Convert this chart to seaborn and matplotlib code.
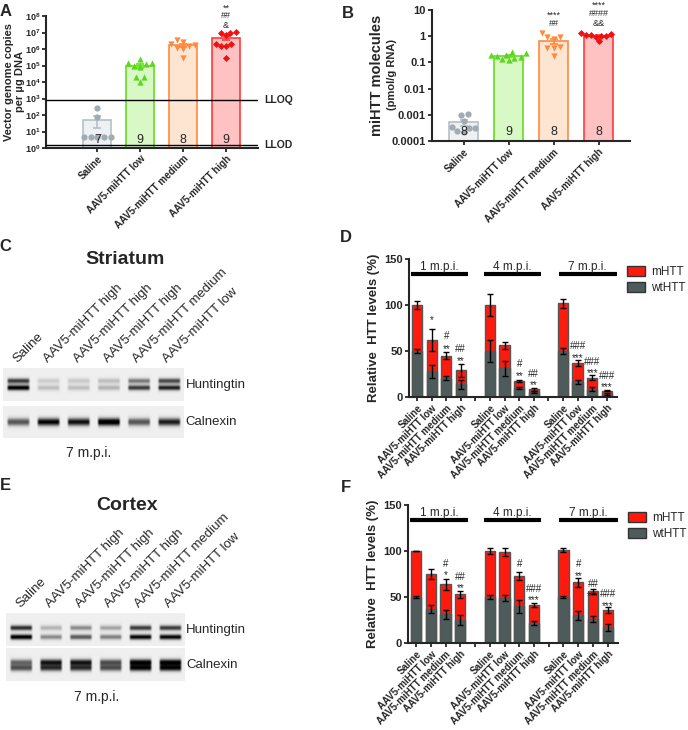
import numpy as np
import pandas as pd
import seaborn as sns
import matplotlib.pyplot as plt
from matplotlib.patches import Patch
from matplotlib.ticker import NullLocator

sns.set_style("ticks")
plt.rcParams['font.family'] = ['Liberation Sans', 'DejaVu Sans']
plt.rcParams['mathtext.fontset'] = 'custom'
plt.rcParams['mathtext.rm'] = 'Liberation Sans'
plt.rcParams['mathtext.bf'] = 'Liberation Sans:bold'

# ---------------- data ----------------
groups = ["Saline", "AAV5-miHTT low", "AAV5-miHTT medium", "AAV5-miHTT high"]
face_cols = ["#edf1f3", "#d8f8c6", "#fde5d2", "#ffc2c2"]
edge_cols = ["#b4c0c7", "#66dd22", "#ff8a3d", "#ff3b3b"]
dot_cols = ["#a0abb3", "#5bd81c", "#ff8a3d", "#f01010"]
markers = ["o", "^", "v", "D"]
marker_sizes = [4.5, 4.5, 4.5, 3.6]

# A: vector genome copies per ug DNA
vg_saline = [4.5, 4.5, 4.5, 4.5, 4.5, 80, 250]
vg_low = [2.5e5, 1.5e5, 1.0e5, 8e4, 1.2e5, 2e4, 1e4, 2e4, 1.5e5]
vg_medium = [3.5e6, 2.5e6, 2e6, 1.5e6, 1.2e6, 1.8e6, 3e5, 1e6]
vg_high = [1.1e7, 1e7, 9e6, 7e6, 2e6, 1.5e6, 2e6, 1.5e6, 3e5]
vg_n = ["7", "9", "8", "9"]
lloq, llod = 800, 1.5
vg_sig = ["**", "##", "&"]

# B: miHTT molecules (pmol/g RNA)
mi_saline = [1.1e-3, 1.0e-3, 6e-4, 3e-4, 3e-4, 3.4e-4, 2.2e-4, 2.4e-4]
mi_low = [0.25, 0.22, 0.2, 0.18, 0.15, 0.13, 0.12, 0.2, 0.16]
mi_medium = [1.3, 0.95, 0.9, 0.8, 0.4, 0.35, 0.35, 0.17]
mi_high = [1.3, 1.2, 1.1, 1.1, 1.0, 1.0, 0.95, 0.65]
mi_n = ["8", "9", "8", "8"]
mi_sig_medium = ["****", "##"]
mi_sig_high = ["****", "####", "&&"]

# C / E: western blot lanes and band intensities
lanes = ["Saline", "AAV5-miHTT high", "AAV5-miHTT high", "AAV5-miHTT high",
         "AAV5-miHTT medium", "AAV5-miHTT low"]
str_htt_upper = [0.8, 0.2, 0.22, 0.28, 0.55, 0.75]
str_htt_lower = [1.05, 0.28, 0.28, 0.33, 0.8, 0.9]
str_cnx = [0.7, 1.0, 0.95, 1.1, 0.7, 0.9]
ctx_htt_upper = [0.85, 0.32, 0.48, 0.38, 0.8, 0.8]
ctx_htt_lower = [1.05, 0.48, 0.68, 0.52, 1.0, 1.0]
ctx_cnx_upper = [0.6, 0.9, 0.9, 0.7, 1.0, 1.0]
ctx_cnx_lower = [0.7, 0.8, 0.8, 0.7, 0.95, 0.95]

# D / F: relative HTT levels
pos = [0, 1, 2, 3, 5, 6, 7, 8, 10, 11, 12, 13]
timepoints = ["1 m.p.i.", "4 m.p.i.", "7 m.p.i."]
d_total = [100, 62, 45, 29, 100, 56, 17, 8.5, 102, 37, 21, 7]
d_total_sem = [4, 12, 4, 7, 12, 4, 1, 1.5, 5, 3, 3, 1]
d_wt = [50, 28, 21, 14, 50, 31, 10, 5, 50, 16, 9, 3.5]
d_wt_sem = [2, 7, 2, 5, 12, 8, 1, 1, 3, 2, 2, 1]
d_sig = [(1, 86, "*"), (2, 66, "#"), (2, 55, "**"), (3, 52, "##"), (3, 42, "**"),
         (7, 36, "#"), (7, 25, "**"), (8, 25, "##"), (8, 15, "**"),
         (11, 55, "###"), (11, 45, "***"), (12, 38, "###"), (12, 28, "***"),
         (13, 23, "###"), (13, 13, "***")]
f_total = [100, 75, 64, 53, 100, 99, 73, 41, 101, 66, 56, 36]
f_total_sem = [0.5, 5, 6, 4, 3, 4, 4, 2, 2, 5, 3, 3]
f_wt = [50, 37, 31, 25, 50, 49, 40, 22, 50, 30, 26, 17]
f_wt_sem = [1, 4, 5, 5, 2, 3, 7, 2, 1, 5, 3, 4]
f_sig = [(2, 86, "#"), (2, 76, "*"), (3, 72, "##"), (3, 62, "**"),
         (7, 86, "#"), (8, 59, "###"), (8, 49, "***"),
         (11, 86, "#"), (11, 75, "**"), (12, 64, "##"), (12, 54, "***"),
         (13, 53, "###"), (13, 43, "***")]
m_col, wt_col = "#ff1a0e", "#4e5b5b"

# ---------------- layout helpers ----------------
W, H = 688, 730
fig = plt.figure(figsize=(W / 100, H / 100), dpi=100)


def add_ax(x0, y0, x1, y1):
    return fig.add_axes([x0 / W, 1 - y1 / H, (x1 - x0) / W, (y1 - y0) / H])


def ftext(x, y, s, **kw):
    fig.text(x / W, 1 - y / H, s, **kw)


def style_axis(ax, ysize=7.5, xsize=7, pad=1.5):
    sns.despine(ax=ax)
    for sp in ax.spines.values():
        sp.set_linewidth(1.5)
    ax.tick_params(width=1.3, length=3, pad=pad)
    for lab in ax.get_yticklabels():
        lab.set_fontweight('bold')
        lab.set_fontsize(ysize)
    for lab in ax.get_xticklabels():
        lab.set_fontweight('bold')
        lab.set_fontsize(xsize)
        lab.set_rotation(45)
        lab.set_ha('right')
        lab.set_rotation_mode('anchor')


def star_y(y, s, step):
    # asterisks sit high in the line box, pull them down a little
    return y - step if s.startswith("*") else y


def dot_bar_panel(ax, data):
    df = pd.DataFrame({"group": np.repeat(groups, [len(v) for v in data]),
                       "value": np.concatenate(data)})
    stats = df.groupby("group", sort=False)["value"].agg(["mean", "sem"]).reindex(groups)
    sns.barplot(x=groups, y=stats["mean"].values, hue=groups, palette=face_cols,
                order=groups, hue_order=groups, width=0.65, saturation=1,
                legend=False, ax=ax)
    for bar, ec in zip(ax.patches, edge_cols):
        bar.set_edgecolor(ec)
        bar.set_linewidth(1.2)
    ax.set_yscale('log')
    for i, (g, vals) in enumerate(zip(groups, data)):
        ax.errorbar(i, stats.loc[g, "mean"], yerr=stats.loc[g, "sem"], fmt='none',
                    ecolor=edge_cols[i], capsize=3, elinewidth=1.2, capthick=1.2, zorder=4)
        sns.swarmplot(x=[g] * len(vals), y=vals, order=groups, color=dot_cols[i],
                      marker=markers[i], size=marker_sizes[i], linewidth=0, ax=ax,
                      zorder=5)
    ax.yaxis.set_minor_locator(NullLocator())
    ax.set_xlabel("")


# ---------------- panel A ----------------
axA = add_ax(46, 16, 258, 148)
dot_bar_panel(axA, [vg_saline, vg_low, vg_medium, vg_high])
axA.set_xlim(-1.2, 3.75)
axA.set_ylim(1, 1e8)
axA.set_yticks([10.0 ** k for k in range(9)],
               [r"$\mathbf{10^{%d}}$" % k for k in range(9)])
axA.axhline(lloq, color="black", lw=1, zorder=6)
axA.axhline(llod, color="black", lw=1, zorder=6)
axA.text(1.03, lloq, "LLOQ", transform=axA.get_yaxis_transform(), fontsize=7.5,
         fontweight='bold', va='center', clip_on=False)
axA.text(1.03, llod, "LLOD", transform=axA.get_yaxis_transform(), fontsize=7.5,
         fontweight='bold', va='center', clip_on=False)
for i, n in enumerate(vg_n):
    axA.text(i, 3, n, ha='center', va='center', fontsize=9, zorder=7)
for k, s in enumerate(vg_sig):
    axA.text(3, 10 ** star_y(8.58 - 0.58 * k, s, 0.12), s, ha='center', va='center',
             fontsize=6.5, clip_on=False)
axA.set_ylabel("Vector genome copies\nper µg DNA", fontsize=8, fontweight='bold',
               linespacing=1.05)
axA.yaxis.set_label_coords(-0.1, 0.5)
style_axis(axA, ysize=6.5, pad=1)

# ---------------- panel B ----------------
axB = add_ax(432, 10, 630, 141)
dot_bar_panel(axB, [mi_saline, mi_low, mi_medium, mi_high])
axB.set_xlim(-0.7, 3.7)
axB.set_ylim(1e-4, 10)
axB.set_yticks([1e-4, 1e-3, 1e-2, 0.1, 1, 10],
               ["0.0001", "0.001", "0.01", "0.1", "1", "10"])
for i, n in enumerate(mi_n):
    axB.text(i, 2.2e-4, n, ha='center', va='center', fontsize=9, zorder=7)
for k, s in enumerate(mi_sig_medium):
    axB.text(2, 10 ** star_y(0.87 - 0.4 * k, s, 0.08), s, ha='center', va='center',
             fontsize=6.5)
for k, s in enumerate(mi_sig_high):
    axB.text(3, 10 ** star_y(1.25 - 0.38 * k, s, 0.08), s, ha='center', va='center',
             fontsize=6.5, clip_on=False)
style_axis(axB, ysize=8)
ftext(377, 75, "miHTT molecules", rotation=90, ha='center', va='center',
      fontsize=10.5, fontweight='bold')
ftext(392, 75, "(pmol/g RNA)", rotation=90, ha='center', va='center',
      fontsize=8, fontweight='bold')


# ---------------- blots C / E ----------------
def draw_blot(ax, bands, centers, sigma):
    rows, cols = 80, 240
    yy = np.linspace(0, 1, rows)[:, None]
    xx = np.linspace(0, 6, cols, endpoint=False)[None, :]
    lane_idx = np.floor(xx).astype(int).clip(0, 5)
    d_edge = 0.5 - np.abs(xx - np.floor(xx) - 0.5)
    hprof = np.clip((d_edge - 0.1) / 0.08, 0, 1)
    img = np.full((rows, cols), 0.15)
    for vals, c in zip(bands, centers):
        v = np.asarray(vals)[lane_idx]
        img = img + v * hprof * np.exp(-0.5 * ((yy - c) / sigma) ** 2)
    ax.imshow(img, cmap='Greys', vmin=0, vmax=1.15, aspect='auto',
              extent=(0, 6, 1, 0), interpolation='bilinear')
    ax.set_axis_off()


def blot_panel(x0, x1, htt_box, cnx_box, htt_bands, htt_c, cnx_bands, cnx_c, cnx_sig):
    ax_h = add_ax(x0, htt_box[0], x1, htt_box[1])
    draw_blot(ax_h, htt_bands, htt_c, 0.06)
    ax_c = add_ax(x0, cnx_box[0], x1, cnx_box[1])
    draw_blot(ax_c, cnx_bands, cnx_c, cnx_sig)
    for i, lab in enumerate(lanes):
        ax_h.text(i + 0.55, -0.1, lab, rotation=45, ha='left', va='bottom',
                  rotation_mode='anchor', fontsize=9.5, clip_on=False)
    ax_h.text(6.08, 0.52, "Huntingtin", fontsize=9.5, va='center', clip_on=False)
    ax_c.text(6.08, 0.5, "Calnexin", fontsize=9.5, va='center', clip_on=False)


blot_panel(3, 183, (368, 401), (406, 438), [str_htt_upper, str_htt_lower], [0.39, 0.6],
           [str_cnx], [0.5], 0.09)
ftext(125, 260, "Striatum", ha='center', va='center', fontsize=14, fontweight='bold')
ftext(89, 453, "7 m.p.i.", ha='center', va='center', fontsize=10)

blot_panel(6, 184, (613, 646), (648, 681), [ctx_htt_upper, ctx_htt_lower], [0.45, 0.73],
           [ctx_cnx_upper, ctx_cnx_lower], [0.45, 0.62], 0.07)
ftext(127, 506, "Cortex", ha='center', va='center', fontsize=14, fontweight='bold')
ftext(97, 697, "7 m.p.i.", ha='center', va='center', fontsize=10)


# ---------------- panels D / F ----------------
def htt_panel(ax, total, total_sem, wt, wt_sem, sig):
    df = pd.DataFrame({"pos": pos, "total": total, "total_sem": total_sem,
                       "wt": wt, "wt_sem": wt_sem})
    sns.barplot(data=df, x="pos", y="total", native_scale=True, color=m_col,
                saturation=1, width=0.7, edgecolor="#555555", linewidth=1,
                errorbar=None, ax=ax)
    sns.barplot(data=df, x="pos", y="wt", native_scale=True, color=wt_col,
                saturation=1, width=0.7, edgecolor="#555555", linewidth=1,
                errorbar=None, ax=ax)
    ax.errorbar(df["pos"], df["total"], yerr=df["total_sem"], fmt='none',
                ecolor='black', capsize=2.5, elinewidth=1, capthick=1, zorder=4)
    ax.errorbar(df["pos"], df["wt"], yerr=df["wt_sem"], fmt='none',
                ecolor='black', capsize=2.5, elinewidth=1, capthick=1, zorder=4)
    for x, y, s in sig:
        ax.text(x, star_y(y, s, 2.5), s, ha='center', va='center', fontsize=7)
    spans = [(-0.4, 3.5), (4.6, 8.5), (9.7, 13.7)]
    for (a, b), tp in zip(spans, timepoints):
        ax.plot([a, b], [134, 134], color='black', lw=3, solid_capstyle='butt',
                clip_on=False)
        ax.text((a + b) / 2, 141, tp, ha='center', va='center', fontsize=8.5)
    ax.set_xlim(-0.55, 13.7)
    ax.set_ylim(0, 150)
    ax.set_yticks([0, 50, 100, 150])
    ticks = list(range(14))
    labels = []
    for t in ticks:
        labels.append(groups[pos.index(t) % 4] if t in pos else "")
    ax.set_xticks(ticks, labels)
    ax.set_xlabel("")
    ax.set_ylabel("Relative  HTT levels (%)", fontsize=9.5, fontweight='bold', labelpad=3)
    ax.legend(handles=[Patch(facecolor=m_col, edgecolor='#333333', label='mHTT'),
                       Patch(facecolor=wt_col, edgecolor='#333333', label='wtHTT')],
              loc='upper left', bbox_to_anchor=(1.02, 0.99), frameon=False,
              fontsize=8.5, handlelength=1.5, handleheight=0.9, borderpad=0,
              handletextpad=0.5, labelspacing=0.35)
    style_axis(ax, ysize=8)


axD = add_ax(409, 259, 617, 397)
htt_panel(axD, d_total, d_total_sem, d_wt, d_wt_sem, d_sig)
axF = add_ax(408, 505, 618, 643)
htt_panel(axF, f_total, f_total_sem, f_wt, f_wt_sem, f_sig)

# panel letters
for s, x, y in [("A", 6, 11), ("B", 348, 14), ("C", 5, 246), ("D", 346, 237),
                ("E", 5, 486), ("F", 346, 487)]:
    ftext(x, y, s, ha='center', va='center', fontsize=12, fontweight='bold')

fig.savefig("out.png", dpi=100)
